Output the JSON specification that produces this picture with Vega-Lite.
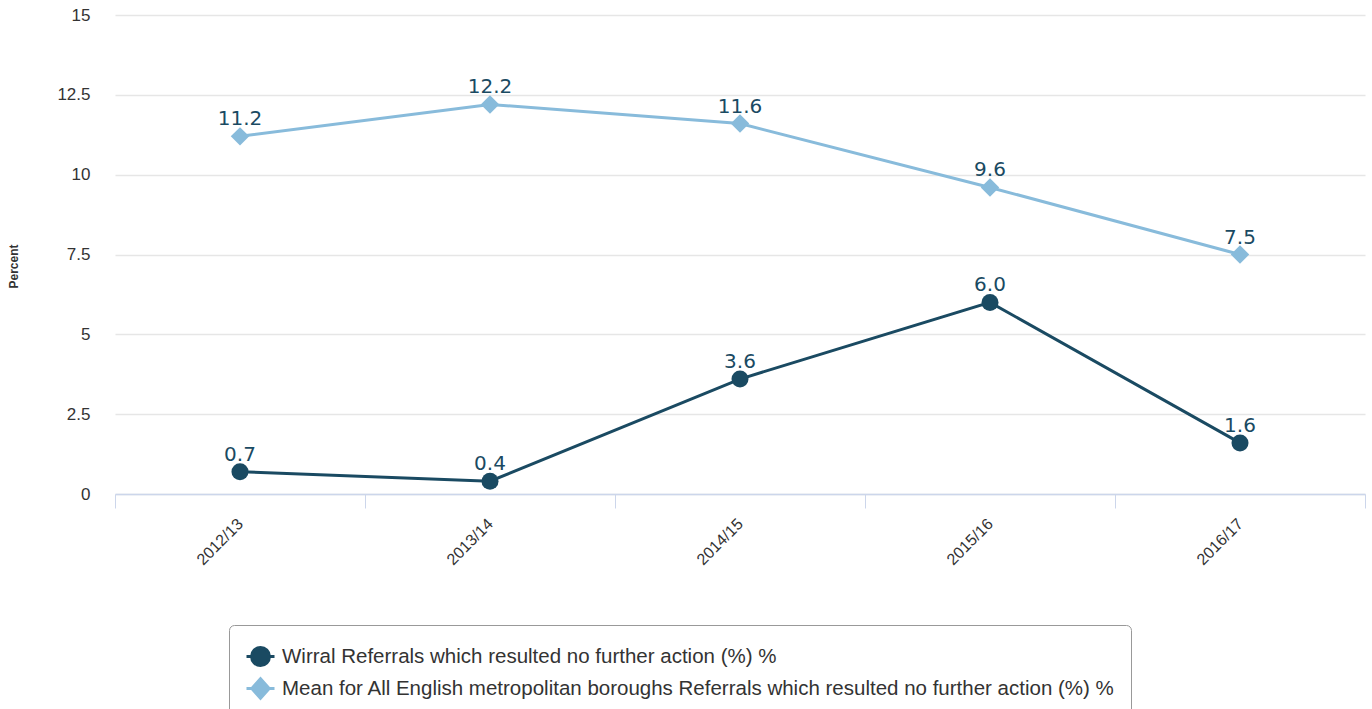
{
  "$schema": "https://vega.github.io/schema/vega-lite/v6.json",
  "width": 1250,
  "height": 479,
  "autosize": "none",
  "padding": {"left": 115, "top": 15, "right": 7, "bottom": 215},
  "background": "white",
  "config": {
    "view": {"stroke": null},
    "font": "Liberation Sans"
  },
  "data": {
    "values": [
      {"year": "2012/13", "series": "Wirral Referrals which resulted no further action (%) %", "value": 0.7},
      {"year": "2013/14", "series": "Wirral Referrals which resulted no further action (%) %", "value": 0.4},
      {"year": "2014/15", "series": "Wirral Referrals which resulted no further action (%) %", "value": 3.6},
      {"year": "2015/16", "series": "Wirral Referrals which resulted no further action (%) %", "value": 6.0},
      {"year": "2016/17", "series": "Wirral Referrals which resulted no further action (%) %", "value": 1.6},
      {"year": "2012/13", "series": "Mean for All English metropolitan boroughs Referrals which resulted no further action (%) %", "value": 11.2},
      {"year": "2013/14", "series": "Mean for All English metropolitan boroughs Referrals which resulted no further action (%) %", "value": 12.2},
      {"year": "2014/15", "series": "Mean for All English metropolitan boroughs Referrals which resulted no further action (%) %", "value": 11.6},
      {"year": "2015/16", "series": "Mean for All English metropolitan boroughs Referrals which resulted no further action (%) %", "value": 9.6},
      {"year": "2016/17", "series": "Mean for All English metropolitan boroughs Referrals which resulted no further action (%) %", "value": 7.5}
    ]
  },
  "encoding": {
    "x": {
      "field": "year",
      "type": "nominal",
      "bandPosition": 0.5,
      "scale": {"type": "band", "paddingInner": 0, "paddingOuter": 0},
      "axis": {
        "title": null,
        "labelAngle": -45,
        "labelAlign": "right",
        "labelBaseline": "middle",
        "labelFontSize": 16,
        "labelColor": "#333333",
        "labelPadding": 13,
        "tickBand": "extent",
        "tickSize": 14,
        "tickColor": "#ccd6eb",
        "tickWidth": 1,
        "domainColor": "#ccd6eb",
        "domainWidth": 1.5,
        "grid": false
      }
    },
    "y": {
      "field": "value",
      "type": "quantitative",
      "scale": {"domain": [0, 15], "nice": false},
      "axis": {
        "title": "Percent",
        "titleFontSize": 12,
        "titleFontWeight": "bold",
        "titleColor": "#333333",
        "titleX": -95,
        "titleY": 251,
        "values": [0, 2.5, 5, 7.5, 10, 12.5, 15],
        "format": ".1~f",
        "labelFontSize": 17,
        "labelColor": "#333333",
        "labelPadding": 25,
        "ticks": false,
        "domain": false,
        "gridColor": "#e6e6e6",
        "gridWidth": 1.5
      }
    },
    "color": {
      "field": "series",
      "type": "nominal",
      "scale": {
        "domain": ["Wirral Referrals which resulted no further action (%) %", "Mean for All English metropolitan boroughs Referrals which resulted no further action (%) %"],
        "range": ["#1a4a62", "#88bbdb"]
      },
      "legend": {
        "title": null,
        "orient": "none",
        "legendX": 114,
        "legendY": 610,
        "direction": "vertical",
        "strokeColor": "#999999",
        "cornerRadius": 5,
        "padding": 16,
        "labelFontSize": 20.5,
        "labelColor": "#333333",
        "labelFont": "Liberation Sans",
        "labelLimit": 1000,
        "labelOffset": 6,
        "rowPadding": 0,
        "symbolSize": 784,
        "symbolOffset": 0,
        "symbolOpacity": 1,
        "symbolStrokeWidth": 3,
        "encode": {
          "symbols": {
            "update": {
              "shape": {"signal": "datum.value === 'Wirral Referrals which resulted no further action (%) %' ? 'M-1,0H1M0.64,0A0.64,0.64,0,1,1,-0.64,0A0.64,0.64,0,1,1,0.64,0Z' : 'M-1,0H1M0,-0.7L0.62,0L0,0.7L-0.62,0Z'"},
              "fill": {"signal": "datum.value === 'Wirral Referrals which resulted no further action (%) %' ? '#1a4a62' : '#88bbdb'"},
              "stroke": {"signal": "datum.value === 'Wirral Referrals which resulted no further action (%) %' ? '#1a4a62' : '#88bbdb'"},
              "strokeWidth": {"value": 3},
              "opacity": {"value": 1}
            }
          }
        }
      }
    }
  },
  "layer": [
    {
      "mark": {"type": "line", "strokeWidth": 3},
      "encoding": {}
    },
    {
      "transform": [{"filter": "datum.series === 'Wirral Referrals which resulted no further action (%) %'"}],
      "mark": {"type": "point", "filled": true, "opacity": 1, "shape": "circle", "size": 290}
    },
    {
      "transform": [{"filter": "datum.series !== 'Wirral Referrals which resulted no further action (%) %'"}],
      "mark": {"type": "point", "filled": true, "opacity": 1, "shape": "diamond", "size": 340}
    },
    {
      "mark": {"type": "text", "dy": -11, "baseline": "alphabetic", "font": "DejaVu Sans", "fontSize": 20},
      "encoding": {
        "text": {"field": "value", "type": "quantitative", "format": ".1f"},
        "color": {"value": "#1a4a62"}
      }
    }
  ]
}
